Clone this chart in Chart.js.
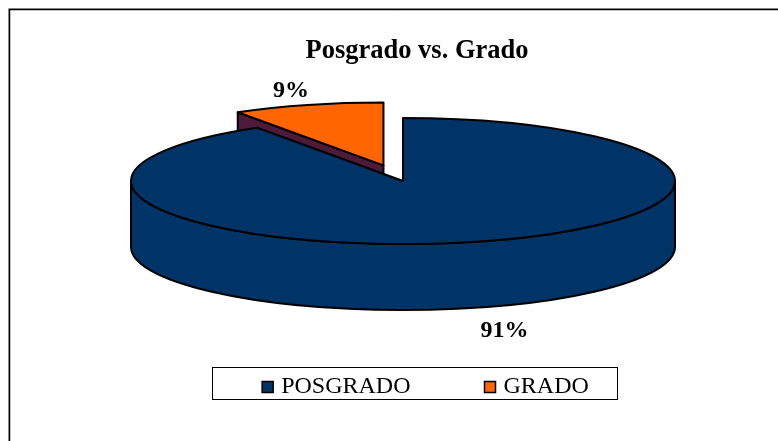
<!DOCTYPE html>
<html>
<head>
<meta charset="utf-8">
<style>html,body{margin:0;padding:0;background:#fff;overflow:hidden}canvas{display:block}</style>
<script src="https://cdn.jsdelivr.net/npm/chart.js@4/dist/chart.umd.min.js"></script>
</head>
<body>
<canvas id="c" width="778" height="441"></canvas>
<script>
const categories = ['POSGRADO', 'GRADO'];
const values = [91, 9];
const sliceColors = ['#003366', '#FF6600'];
const wallColor = '#4D1A3A';
const explode = [0, 35];
const titleText = 'Posgrado vs. Grado';
const pctLabels = ['91%', '9%'];

const FONT = '"Liberation Serif","Times New Roman",serif';
// projection of the flat pie to a tilted disc
const P = {cx: 403, cy: 181, rx: 272, ry: 63, depth: 66, r: 136};
const sx = P.rx / P.r, sy = P.ry / P.r;

function project(arcs) {
  const a0 = arcs[0];
  return arcs.map(a => ({
    x: P.cx + (a.x - a0.x) * sx,
    y: P.cy + (a.y - a0.y) * sy,
    s: a.startAngle, e: a.endAngle
  }));
}

const pie3d = {
  id: 'pie3d',
  afterDatasetsUpdate(chart) {
    chart.getDatasetMeta(0).data.forEach((a, i) => {
      const h = (a.startAngle + a.endAngle) / 2;
      a.x += Math.cos(h) * explode[i];
      a.y += Math.sin(h) * explode[i];
    });
  },
  beforeDraw(chart) {
    const c = chart.ctx;
    c.save();
    // outer frame (top and left only)
    c.lineWidth = 1; c.strokeStyle = '#b0b0b0';
    c.beginPath(); c.moveTo(8.5, 441); c.lineTo(8.5, 8.5); c.lineTo(778, 8.5); c.stroke();
    c.lineWidth = 1.5; c.strokeStyle = '#000';
    c.beginPath(); c.moveTo(9.5, 441); c.lineTo(9.5, 9.5); c.lineTo(778, 9.5); c.stroke();
    // legend box
    c.lineWidth = 1; c.strokeStyle = '#000';
    c.strokeRect(212.5, 367.5, 405, 32);
    c.restore();
  },
  beforeDatasetDraw(chart) {
    const c = chart.ctx, arcs = chart.getDatasetMeta(0).data, pr = project(arcs);
    c.save();
    c.lineWidth = 2; c.strokeStyle = '#000'; c.lineJoin = 'round';
    // cut face of the separated slice
    const g = pr[1];
    const gx = g.x + P.rx * Math.cos(g.s), gy = g.y + P.ry * Math.sin(g.s);
    c.fillStyle = wallColor;
    c.beginPath();
    c.moveTo(gx, gy); c.lineTo(g.x, g.y);
    c.lineTo(g.x, g.y + P.depth); c.lineTo(gx, gy + P.depth);
    c.closePath(); c.fill(); c.stroke();
    // side wall of the main slice
    c.fillStyle = sliceColors[0];
    c.beginPath();
    c.moveTo(P.cx - P.rx, P.cy);
    c.lineTo(P.cx - P.rx, P.cy + P.depth);
    c.ellipse(P.cx, P.cy + P.depth, P.rx, P.ry, 0, Math.PI, 0, true);
    c.lineTo(P.cx + P.rx, P.cy);
    c.ellipse(P.cx, P.cy, P.rx, P.ry, 0, 0, Math.PI);
    c.closePath(); c.fill(); c.stroke();
    c.restore();
    // the library draws the slices on the tilted plane
    c.save();
    c.translate(P.cx, P.cy);
    c.scale(sx, sy);
    c.translate(-arcs[0].x, -arcs[0].y);
  },
  afterDatasetDraw(chart) {
    const c = chart.ctx, pr = project(chart.getDatasetMeta(0).data);
    c.restore();
    c.save();
    c.lineWidth = 2; c.strokeStyle = '#000'; c.lineJoin = 'round';
    pr.forEach(p => {
      c.beginPath();
      c.moveTo(p.x, p.y);
      c.ellipse(p.x, p.y, P.rx, P.ry, 0, p.s, p.e);
      c.closePath(); c.stroke();
    });
    c.fillStyle = '#000';
    c.font = 'bold 24px ' + FONT;
    c.textAlign = 'center'; c.textBaseline = 'middle';
    c.fillText(pctLabels[0], 504.5, 331);
    c.fillText(pctLabels[1], 291, 91);
    c.restore();
  },
  afterLayout(chart) {
    const l = chart.legend;
    l.top = 297; l.bottom = l.top + l.height;
    l.left += 10.5; l.right += 10.5;
  }
};

new Chart(document.getElementById('c'), {
  type: 'pie',
  plugins: [pie3d],
  data: {
    labels: categories,
    datasets: [{
      data: values,
      backgroundColor: sliceColors,
      borderWidth: 0,
      radius: P.r,
      clip: false
    }]
  },
  options: {
    responsive: false,
    animation: false,
    events: [],
    layout: {padding: {left: 56}},
    plugins: {
      tooltip: {enabled: false},
      title: {
        display: true,
        text: titleText,
        color: '#000',
        font: {family: FONT, size: 26.5, weight: 'bold'},
        padding: {top: 35, bottom: 10}
      },
      legend: {
        position: 'bottom',
        labels: {
          color: '#000',
          font: {family: FONT, size: 24},
          usePointStyle: true,
          pointStyle: 'rect',
          boxWidth: 3,
          boxHeight: 11,
          padding: 78,
          generateLabels(chart) {
            return categories.map((t, i) => ({
              text: t, fillStyle: sliceColors[i], strokeStyle: '#000',
              lineWidth: 1.5, pointStyle: 'rect', index: i, hidden: false
            }));
          }
        }
      }
    }
  }
});
</script>
</body>
</html>
